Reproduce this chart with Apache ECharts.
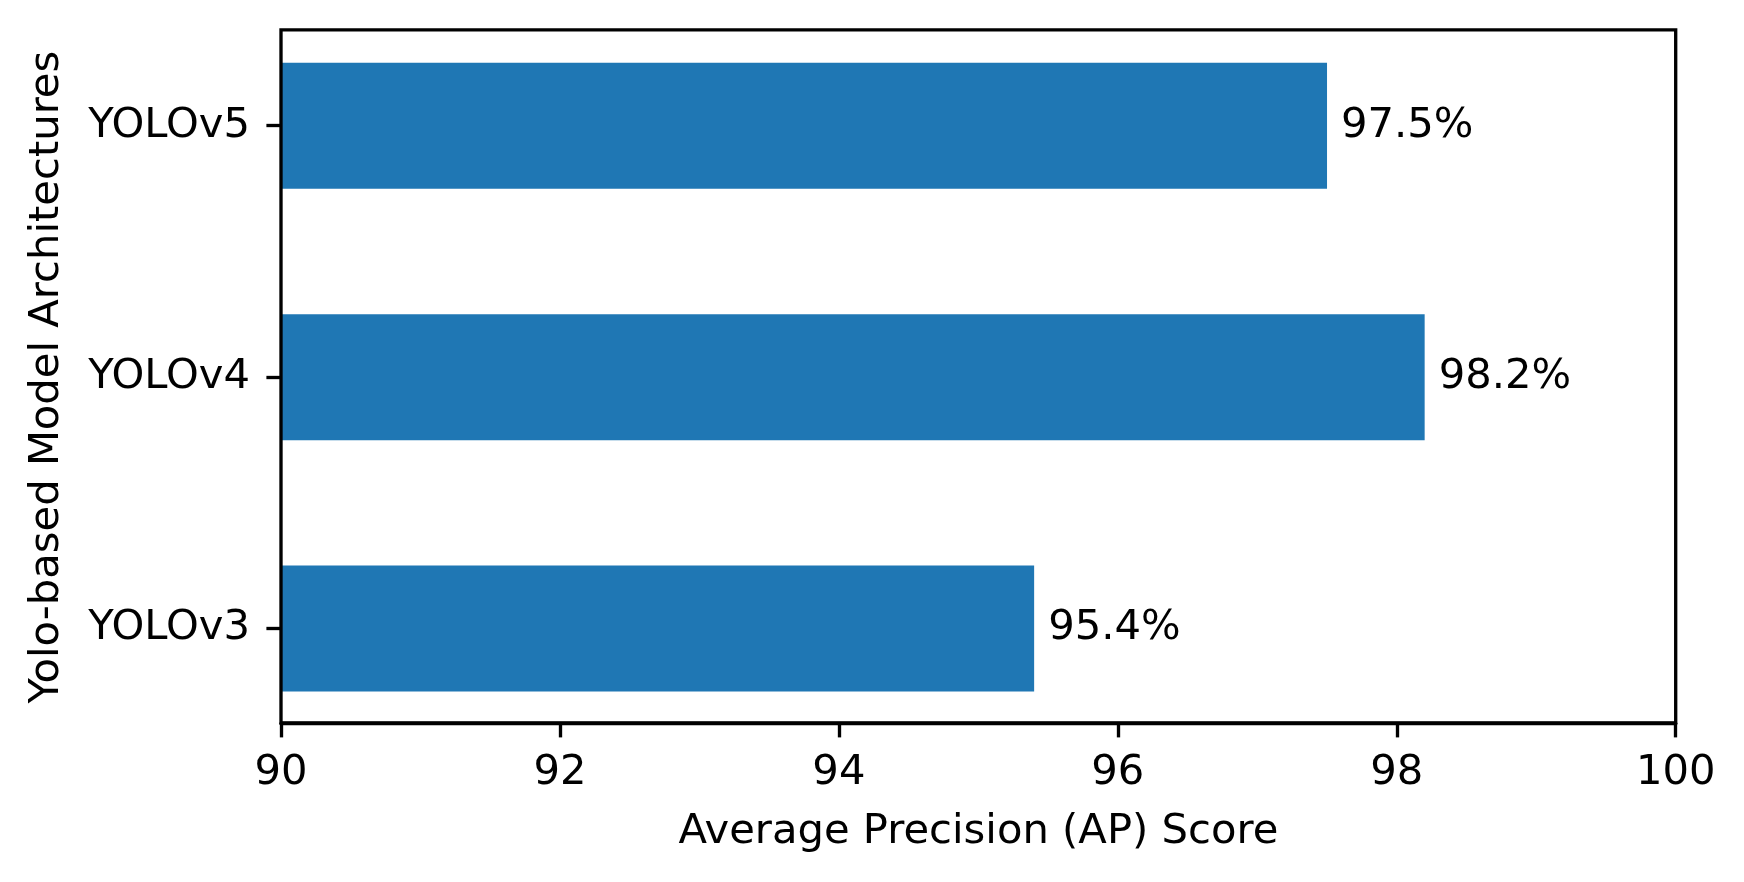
<!DOCTYPE html>
<html>
<head>
<meta charset="utf-8">
<script src="https://cdn.jsdelivr.net/npm/echarts@6/dist/echarts.min.js"></script>
<style>html,body{margin:0;padding:0;background:#fff;}#c{width:1744px;height:882px;}</style>
</head>
<body>
<div id="c"></div>
<script>
const categories = ['YOLOv3', 'YOLOv4', 'YOLOv5'];
const apScores = [95.4, 98.2, 97.5];
const xTicks = { min: 90, max: 100, interval: 2 };
const xTitle = 'Average Precision (AP) Score';
const yTitle = 'Yolo-based Model Architectures';

const FONT = 'DejaVu Sans';
const FS = 41.7;
const LW = 3.33;

const chart = echarts.init(document.getElementById('c'), null, { renderer: 'canvas' });
chart.setOption({
  animation: false,
  backgroundColor: '#ffffff',
  textStyle: { fontFamily: FONT },
  grid: [
    { left: 281, right: 68.3, top: 29.8, bottom: 159.2, show: true, borderColor: '#000', borderWidth: LW, backgroundColor: 'transparent', z: 10 },
    { left: 281, right: 68.3, top: -1.7, bottom: 127.7 }
  ],
  xAxis: [
    {
      gridIndex: 0, type: 'value', min: xTicks.min, max: xTicks.max, interval: xTicks.interval,
      axisLine: { show: true, lineStyle: { color: '#000', width: LW } },
      axisTick: { show: true, length: 14.6, lineStyle: { color: '#000', width: LW } },
      axisLabel: { color: '#000', fontSize: FS, fontFamily: FONT, margin: 29 },
      splitLine: { show: false },
      name: xTitle, nameLocation: 'middle', nameGap: 88,
      nameTextStyle: { color: '#000', fontSize: FS, fontFamily: FONT }
    },
    { gridIndex: 1, type: 'value', min: xTicks.min, max: xTicks.max, show: false }
  ],
  yAxis: [
    { gridIndex: 0, type: 'value', min: 0, max: 1, show: false },
    {
      gridIndex: 1, type: 'category', data: categories,
      axisLine: { show: false },
      axisTick: { show: true, alignWithLabel: true, length: 14.6, lineStyle: { color: '#000', width: LW } },
      axisLabel: { color: '#000', fontSize: FS, fontFamily: FONT, margin: 31 },
      splitLine: { show: false },
      name: yTitle, nameLocation: 'middle', nameGap: 213,
      nameTextStyle: { color: '#000', fontSize: FS, fontFamily: FONT }
    }
  ],
  series: [{
    type: 'bar', xAxisIndex: 1, yAxisIndex: 1,
    data: apScores, barWidth: 126,
    itemStyle: { color: '#1f77b4' },
    label: {
      show: true, position: 'right', distance: 14, color: '#000', fontSize: FS, fontFamily: FONT,
      formatter: p => p.value.toFixed(1) + '%'
    }
  }]
});
</script>
</body>
</html>
